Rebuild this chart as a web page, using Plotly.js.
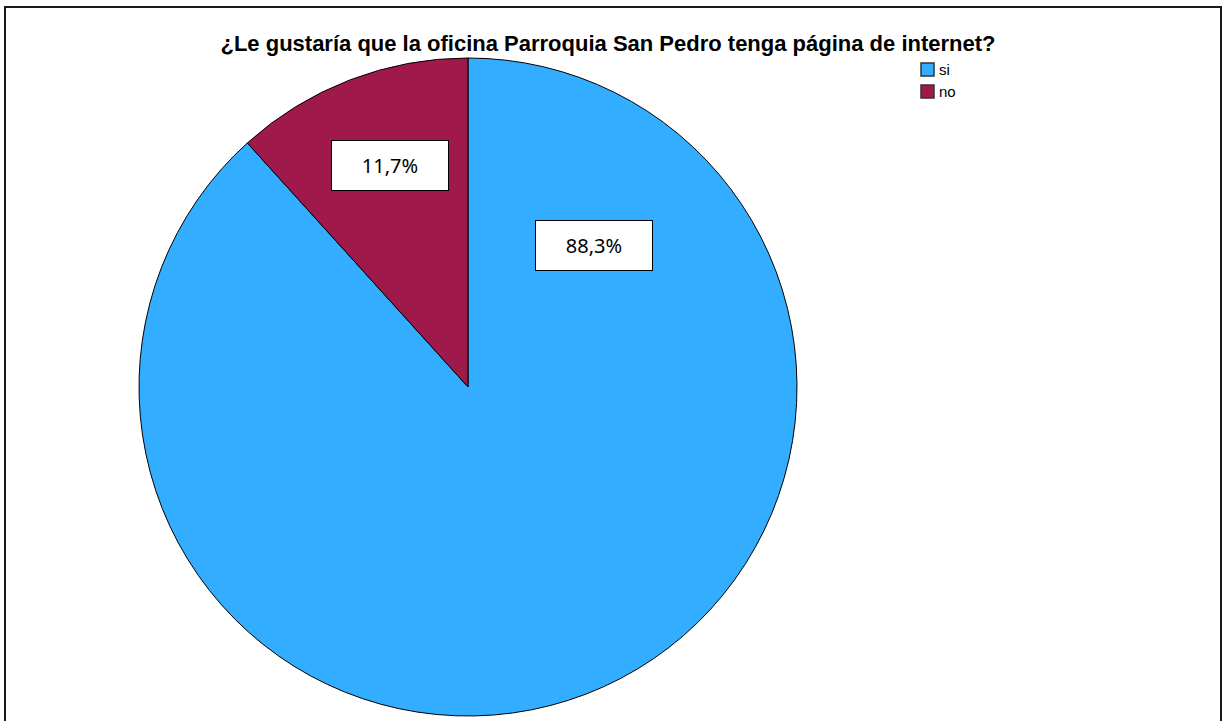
<!DOCTYPE html>
<html>
<head>
<meta charset="utf-8">
<script src="https://cdn.plot.ly/plotly-3.0.1.min.js"></script>
<style>html,body{margin:0;padding:0;background:#fff;}#chart{width:1223px;height:721px;}</style>
</head>
<body>
<div id="chart"></div>
<script>
const categories = ["si", "no"];
const percentages = [88.3, 11.7];
const sliceColors = ["#33ADFF", "#A0194B"];
const labelText = percentages.map(v => v.toFixed(1).replace(".", ",") + "%");
const titleText = "¿Le gustaría que la oficina Parroquia San Pedro tenga página de internet?";

const W = 1223, H = 721;
const px = x => x / W;
const py = y => 1 - y / H;

const trace = {
  type: "pie",
  labels: categories,
  values: percentages,
  sort: false,
  direction: "clockwise",
  rotation: 0,
  textinfo: "none",
  hoverinfo: "label+percent",
  marker: { colors: sliceColors, line: { color: "#000000", width: 1 } },
  domain: { x: [px(139), px(797)], y: [py(716), py(58)] },
  showlegend: false
};

const labelPos = [[594, 245], [390, 165]];
const annotations = categories.map((c, i) => ({
  xref: "paper", yref: "paper",
  x: px(labelPos[i][0]), y: py(labelPos[i][1]),
  xanchor: "center", yanchor: "middle",
  text: labelText[i], showarrow: false,
  font: { family: "Noto Sans, Open Sans, sans-serif", size: 20, color: "#000" },
  bgcolor: "#ffffff", bordercolor: "#000000", borderwidth: 1,
  width: 114, height: 47, align: "center", valign: "middle"
}));

// custom legend (swatch + text) built from categories/colours
const legX = 921, legY0 = 63, legStep = 22, sw = 13;
const shapes = [{
  type: "rect", xref: "paper", yref: "paper",
  x0: px(5), x1: px(1221), y0: py(740), y1: py(7),
  line: { color: "#1a1a1a", width: 2 }, fillcolor: "rgba(0,0,0,0)"
}];
categories.forEach((c, i) => {
  const y = legY0 + i * legStep;
  shapes.push({
    type: "rect", xref: "paper", yref: "paper",
    x0: px(legX), x1: px(legX + sw), y0: py(y + sw), y1: py(y),
    fillcolor: sliceColors[i], line: { color: "#333333", width: 1.5 }
  });
  annotations.push({
    xref: "paper", yref: "paper",
    x: px(legX + sw + 3), y: py(y + sw / 2 + 0.5),
    xanchor: "left", yanchor: "middle", showarrow: false,
    text: c,
    font: { family: "Liberation Sans, Arial, sans-serif", size: 15, color: "#000" }
  });
});

const layout = {
  width: W, height: H,
  margin: { l: 0, r: 0, t: 0, b: 0, pad: 0 },
  paper_bgcolor: "#ffffff",
  showlegend: false,
  title: {
    text: "<b>" + titleText + "</b>",
    font: { family: "Liberation Sans, Arial, sans-serif", size: 22, color: "#000" },
    x: px(608), xanchor: "center", y: py(43), yanchor: "middle"
  },
  annotations: annotations,
  shapes: shapes
};

Plotly.newPlot("chart", [trace], layout, { displayModeBar: false, staticPlot: true });
</script>
</body>
</html>
